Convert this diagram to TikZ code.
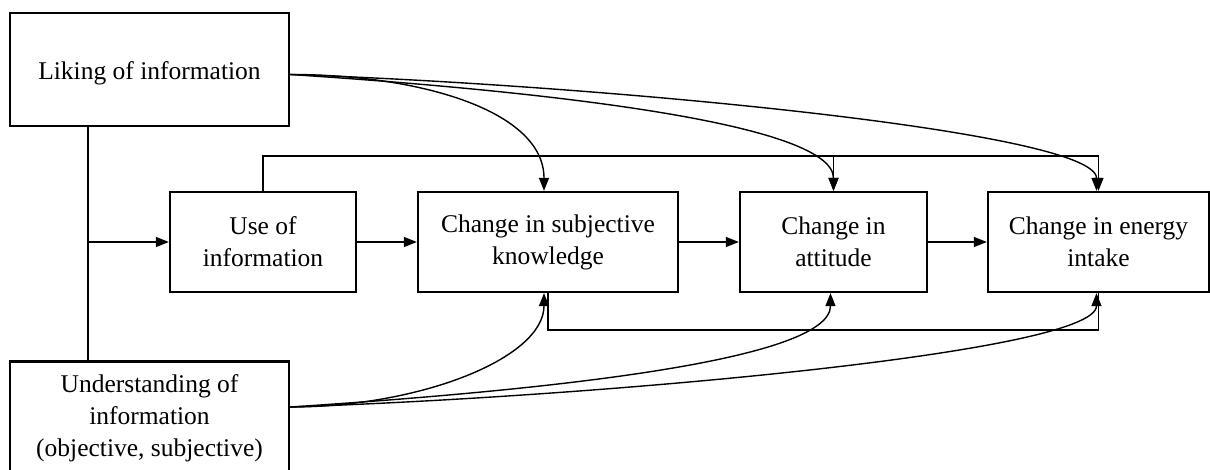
\documentclass[tikz,border=0pt]{standalone}
\usepackage{fontspec}
\setmainfont{Liberation Serif}
\usetikzlibrary{arrows.meta}
\begin{document}
\begin{tikzpicture}[x=1pt,y=-1pt,
  box/.style={draw,line width=2.3pt,align=center,inner sep=0pt,font=\fontsize{25.5}{32}\selectfont},
  conn/.style={line width=1.4pt},
  arr/.style={conn,-{Triangle[length=13pt,width=10pt]}}]
\useasboundingbox (0,0) rectangle (1210,470);
\node[box,minimum width=279pt,minimum height=113pt,text height=22pt,text depth=2pt] (like) at (149.5,69.5) {Liking of information};
\node[box,minimum width=279pt,minimum height=113pt] (und) at (149.5,418) {Understanding of\\information\\(objective, subjective)};
\node[box,minimum width=186pt,minimum height=100pt] (use) at (263,242) {Use of\\information};
\node[box,minimum width=260pt,minimum height=100pt] (subj) at (548,242) {Change in subjective\\knowledge};
\node[box,minimum width=187pt,minimum height=100pt] (att) at (833.5,242) {Change in\\attitude};
\node[box,minimum width=221pt,minimum height=100pt] (energy) at (1098.5,242) {Change in energy\\intake};
% left trunk
\coordinate (j) at (88,242);
\draw[conn] (like.south -| j) -- (und.north -| j);
\draw[arr] (j) -- (use.west);
% main chain
\draw[arr] (use.east) -- (subj.west);
\draw[arr] (subj.east) -- (att.west);
\draw[arr] (att.east) -- (energy.west);
% top bracket
\coordinate (tb) at (263,156);
\draw[arr] (use.north) -- (use.north |- tb) -| (energy.north);
\draw[arr] (att.north |- tb) -- (att.north);
% bottom bracket
\coordinate (bb) at (548,330);
\draw[conn] (subj.south) -- (subj.south |- bb) -| (energy.south);
% curves from liking
\coordinate (ls) at ([yshift=-5pt]like.east);
\draw[arr] (ls) .. controls +(130,0) and +(0,-80) .. ([xshift=-4pt]subj.north);
\draw[arr] (ls) .. controls +(230,15) and +(0,-70) .. (att.north);
\draw[arr] (ls) .. controls +(300,10) and +(0,-60) .. ([xshift=-2pt]energy.north);
% curves from understanding
\coordinate (us) at ([yshift=11pt]und.east);
\draw[arr] (us) .. controls +(130,0) and +(0,65) .. ([xshift=-4pt]subj.south);
\draw[arr] (us) .. controls +(230,-15) and +(0,70) .. ([xshift=-3pt]att.south);
\draw[arr] (us) .. controls +(300,-10) and +(0,60) .. ([xshift=-2pt]energy.south);
\end{tikzpicture}
\end{document}
